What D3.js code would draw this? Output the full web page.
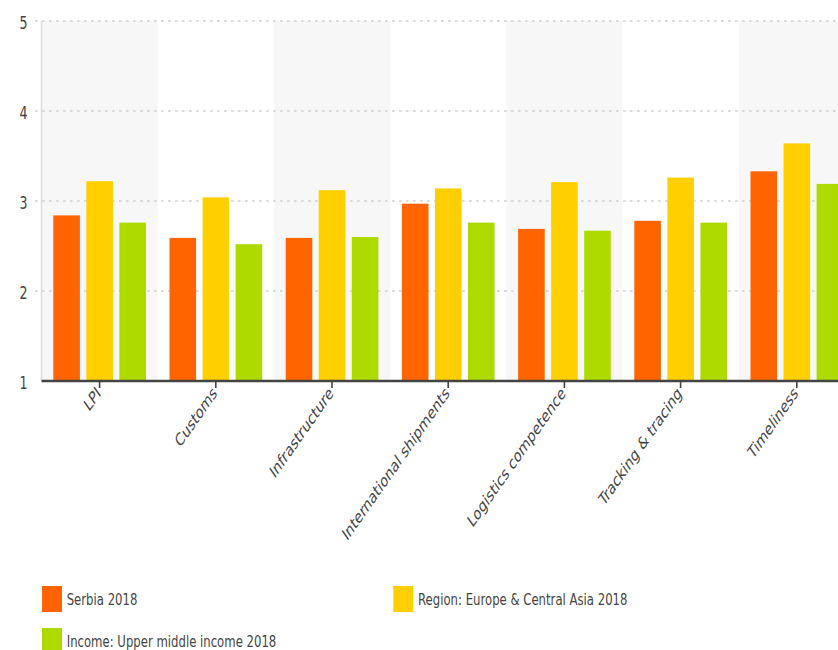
<!DOCTYPE html>
<html>
<head>
<meta charset="utf-8">
<script src="https://cdn.jsdelivr.net/npm/d3@7"></script>
<style>
  html, body { margin: 0; padding: 0; background: #fff; }
  svg { display: block; }
  text { font-family: "DejaVu Sans", Verdana, sans-serif; fill: #444; }
</style>
</head>
<body>
<svg id="chart" width="838" height="650"></svg>
<script>
// ---------- data ----------
const categories = ["LPI", "Customs", "Infrastructure", "International shipments",
                    "Logistics competence", "Tracking & tracing", "Timeliness"];
const serbia2018 = [2.84, 2.59, 2.59, 2.97, 2.69, 2.78, 3.33];
const region2018 = [3.22, 3.04, 3.12, 3.14, 3.21, 3.26, 3.64];
const income2018 = [2.76, 2.52, 2.60, 2.76, 2.67, 2.76, 3.19];
const seriesNames = ["Serbia 2018", "Region: Europe & Central Asia 2018", "Income: Upper middle income 2018"];
const seriesColors = ["#ff6400", "#ffcf00", "#addb00"];
const yTicks = [1, 2, 3, 4, 5];

const seriesValues = [serbia2018, region2018, income2018];

// ---------- layout ----------
const sx = 0.7;                 // horizontal squeeze of the whole picture
const px = v => v / sx;         // pixel -> natural units
const plotLeft = 41.5, bandW = 116.2, plotTop = 21, plotBottom = 381;

const svg = d3.select("#chart");
const g = svg.append("g").attr("transform", `scale(${sx},1)`);

const x = d3.scaleBand().domain(categories)
  .range([px(plotLeft), px(plotLeft + bandW * categories.length)])
  .paddingInner(0).paddingOuter(0);
const xs = d3.scaleBand().domain(seriesNames)
  .range([px(11.8), px(104.5)]).paddingInner(0.195).paddingOuter(0);
const y = d3.scaleLinear().domain([1, 5]).range([plotBottom, plotTop]);

// alternating band backgrounds
g.append("g").selectAll("rect").data(categories.filter((d, i) => i % 2 === 0))
  .join("rect")
  .attr("x", d => x(d)).attr("width", x.bandwidth())
  .attr("y", y(5)).attr("height", y(1) - y(5))
  .attr("fill", "#f7f7f7");

// grid lines
g.append("g").selectAll("line").data(yTicks.filter(t => t > 1))
  .join("line")
  .attr("x1", px(35)).attr("x2", px(900))
  .attr("y1", d => y(d)).attr("y2", d => y(d))
  .attr("stroke", "#cfcfcf").attr("stroke-width", 1.4)
  .attr("stroke-dasharray", "3.8,6.2");

// y axis line
g.append("line")
  .attr("x1", px(plotLeft)).attr("x2", px(plotLeft))
  .attr("y1", y(5)).attr("y2", y(1))
  .attr("stroke", "#dcdcdc").attr("stroke-width", px(1.6));

// y axis labels
const yAxis = d3.axisLeft(y).tickValues(yTicks).tickFormat(d3.format("d")).tickSize(0).tickPadding(0);
const yg = g.append("g").attr("transform", `translate(${px(27.5)},0)`).call(yAxis);
yg.select(".domain").remove();
yg.selectAll("text").attr("font-size", 18).attr("fill", "#484848")
  .attr("font-family", "DejaVu Sans, Verdana, sans-serif").attr("dy", "0.42em");

// bars
const groups = g.append("g").selectAll("g").data(seriesNames).join("g")
  .attr("fill", (d, i) => seriesColors[i]);
groups.selectAll("rect")
  .data((s, si) => categories.map((c, ci) => ({ s, c, v: seriesValues[si][ci] })))
  .join("rect")
  .attr("x", d => x(d.c) + xs(d.s))
  .attr("width", xs.bandwidth())
  .attr("y", d => y(d.v))
  .attr("height", d => y(1) - y(d.v));

// x axis
const xAxis = d3.axisBottom(x).tickSize(7).tickSizeOuter(0).tickPadding(0);
const xg = g.append("g").attr("transform", `translate(0,${plotBottom})`).call(xAxis);
xg.select(".domain").attr("stroke", "#444").attr("stroke-width", 2.6)
  .attr("d", `M${px(plotLeft)},0H${px(900)}`);
xg.selectAll(".tick line").attr("stroke", "#444").attr("stroke-width", px(1.6));
xg.selectAll(".tick text")
  .attr("font-size", 17.5).attr("fill", "#484848")
  .attr("font-family", "DejaVu Sans, Verdana, sans-serif")
  .attr("text-anchor", "end")
  .attr("transform", "translate(-1.5,9) rotate(-45)")
  .attr("x", 0).attr("y", 0).attr("dx", 0).attr("dy", "0.35em");

// legend
const legendPos = [[42, 586], [393.3, 586], [42, 628]];
const lg = g.append("g").selectAll("g").data(seriesNames).join("g")
  .attr("transform", (d, i) => `translate(${px(legendPos[i][0])},${legendPos[i][1]})`);
lg.append("rect").attr("width", px(20)).attr("height", 26)
  .attr("fill", (d, i) => seriesColors[i]);
lg.append("text").attr("x", px(24.7)).attr("y", 13.5).attr("dy", "0.35em")
  .attr("font-size", 16.7).attr("fill", "#484848").text(d => d);
</script>
</body>
</html>
